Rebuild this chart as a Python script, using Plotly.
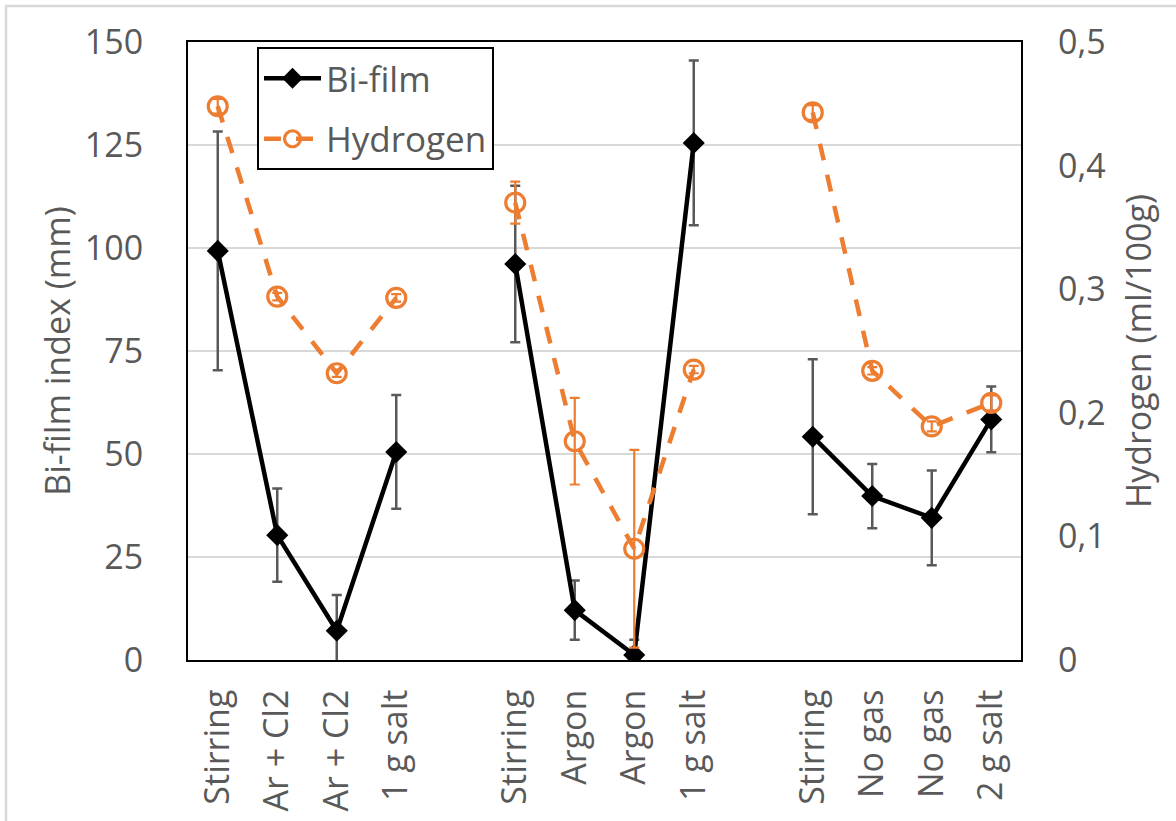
import plotly.graph_objects as go

# Category labels along the x axis; empty strings are the spacers between the three trials
categories = ["Stirring", "Ar + Cl2", "Ar + Cl2", "1 g salt", "",
              "Stirring", "Argon", "Argon", "1 g salt", "",
              "Stirring", "No gas", "No gas", "2 g salt"]

# Bi-film index (mm) and its standard deviation
bifilm = [99.3, 30.3, 7.1, 50.5, None,
          96.1, 12.1, 1.2, 125.5, None,
          54.2, 39.8, 34.5, 58.4]
bifilm_err = [29.0, 11.3, 8.7, 13.8, 0,
              19.0, 7.2, 3.7, 20.0, 0,
              18.8, 7.8, 11.5, 8.0]

# Hydrogen content (ml/100g) and its standard deviation
hydrogen = [0.448, 0.294, 0.232, 0.293, None,
            0.370, 0.177, 0.090, 0.235, None,
            0.443, 0.234, 0.189, 0.208]
hydrogen_err = [0.006, 0.003, 0.003, 0.003, 0,
                0.017, 0.035, 0.080, 0.003, 0,
                0.006, 0.003, 0.004, 0.006]

left_ticks = [0, 25, 50, 75, 100, 125, 150]
right_ticks = [0, 0.1, 0.2, 0.3, 0.4, 0.5]

positions = list(range(len(categories)))
TEXT = "#595959"
ORANGE = "#ED7D31"
FONT = "Open Sans"
FS = 34

fig = go.Figure()

fig.add_trace(go.Scatter(
    x=positions, y=bifilm, name="Bi-film", mode="lines+markers",
    line=dict(color="black", width=4.5),
    marker=dict(symbol="diamond", size=17, color="black"),
    error_y=dict(type="data", array=bifilm_err, visible=True,
                 color=TEXT, thickness=2.5, width=5),
    connectgaps=False, legendgroup="a", yaxis="y",
))

fig.add_trace(go.Scatter(
    x=positions, y=hydrogen, name="Hydrogen", mode="lines+markers",
    line=dict(color=ORANGE, width=4.5, dash="17px,15px"),
    marker=dict(symbol="circle-open", size=19, color=ORANGE,
                line=dict(width=3.2, color=ORANGE)),
    error_y=dict(type="data", array=hydrogen_err, visible=True,
                 color=ORANGE, thickness=2.2, width=5),
    connectgaps=False, legendgroup="b", yaxis="y2",
))

# Light grey frame around the whole chart
fig.add_shape(type="rect", xref="paper", yref="paper",
              x0=(6 - 188) / 833, x1=(1190 - 188) / 833,
              y0=(660 - 835) / 618, y1=(660 - 6) / 618,
              line=dict(color="#d9d9d9", width=2.5), layer="below")

fig.update_layout(
    width=1176, height=821,
    margin=dict(l=188, r=155, t=42, b=161),
    paper_bgcolor="white", plot_bgcolor="white",
    separators=",.",
    font=dict(family=FONT, size=FS, color=TEXT),
    showlegend=True,
    legend=dict(
        x=(257 - 188) / 833, y=(660 - 47) / 618,
        xanchor="left", yanchor="top",
        bgcolor="white", bordercolor="black", borderwidth=2,
        font=dict(family=FONT, size=FS + 1, color=TEXT),
        traceorder="grouped", tracegroupgap=12,
        itemwidth=57,
    ),
    xaxis=dict(
        range=[-0.5, len(categories) - 0.5],
        tickmode="array", tickvals=positions, ticktext=categories,
        tickangle=-90, ticks="", ticklabelstandoff=14,
        showgrid=False, zeroline=False, automargin=False,
        showline=True, mirror=True, linecolor="black", linewidth=2,
        tickfont=dict(family=FONT, size=FS, color=TEXT),
    ),
    yaxis=dict(
        range=[0, 150], tickmode="array", tickvals=left_ticks,
        ticks="", ticklabelstandoff=36, automargin=False,
        showgrid=True, gridcolor="#d9d9d9", gridwidth=1.5,
        zeroline=False,
        showline=True, mirror=True, linecolor="black", linewidth=2,
        title=dict(text="Bi-film index (mm)", standoff=4,
                   font=dict(family=FONT, size=FS, color=TEXT)),
        tickfont=dict(family=FONT, size=FS, color=TEXT),
    ),
    yaxis2=dict(
        range=[0, 0.5], tickmode="array", tickvals=right_ticks,
        overlaying="y", side="right",
        ticks="", ticklabelstandoff=36, automargin=False,
        showgrid=False, zeroline=False, showline=False,
        title=dict(text="Hydrogen (ml/100g)", standoff=22,
                   font=dict(family=FONT, size=FS, color=TEXT)),
        tickfont=dict(family=FONT, size=FS, color=TEXT),
    ),
)

fig.write_html("out.html")
